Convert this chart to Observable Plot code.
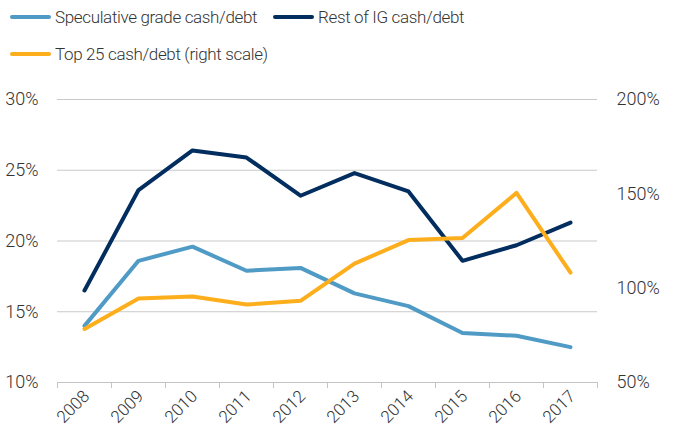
<!DOCTYPE html>
<html>
<head>
<meta charset="utf-8">
<script src="https://cdn.jsdelivr.net/npm/d3@7"></script>
<script src="https://cdn.jsdelivr.net/npm/@observablehq/plot@0.6"></script>
<style>
  body { margin: 0; background: #fff; font-family: Roboto, sans-serif; color: #333; }
  #legend { position: relative; width: 676px; height: 80px; font-size: 17px; font-weight: 300; letter-spacing: -0.35px; }
  .item { position: absolute; display: flex; align-items: center; white-space: nowrap; }
  .sw { display: inline-block; width: 41px; height: 4px; border-radius: 2px; margin-right: 4px; }
  #chart svg text { font-weight: 300; }
</style>
</head>
<body>
<div id="legend"></div>
<div id="chart"></div>
<script>
const years = [2008, 2009, 2010, 2011, 2012, 2013, 2014, 2015, 2016, 2017];
const speculative = [14.0, 18.6, 19.6, 17.9, 18.1, 16.3, 15.4, 13.5, 13.3, 12.5];
const restIG = [16.5, 23.6, 26.4, 25.9, 23.2, 24.8, 23.5, 18.6, 19.7, 21.3];
const top25 = [78.4, 94.5, 95.6, 91.3, 93.3, 113, 125.5, 126.6, 150.5, 108.2];
const leftTicks = [10, 15, 20, 25, 30];
const rightTicks = [50, 100, 150, 200];
const seriesNames = ["Speculative grade cash/debt", "Rest of IG cash/debt", "Top 25 cash/debt (right scale)"];
const seriesColors = ["#4f9bc6", "#022d5f", "#fdae1c"];

// right scale (50..200) mapped onto left scale (10..30)
const toLeft = v => 10 + (v - 50) * 20 / 150;
const toRight = v => 50 + (v - 10) * 150 / 20;

const rows = [];
years.forEach((y, i) => {
  rows.push({year: y, value: speculative[i], s: seriesNames[0]});
  rows.push({year: y, value: restIG[i], s: seriesNames[1]});
  rows.push({year: y, value: toLeft(top25[i]), s: seriesNames[2]});
});

// legend
const legend = document.getElementById("legend");
const legendPos = [[10, 7], [273, 7], [10, 44]];
seriesNames.forEach((n, i) => {
  const d = document.createElement("div");
  d.className = "item";
  d.style.left = legendPos[i][0] + "px";
  d.style.top = legendPos[i][1] + "px";
  d.innerHTML = `<span class="sw" style="background:${seriesColors[i]}"></span><span>${n}</span>`;
  legend.appendChild(d);
});

const boundaries = years.map(y => y - 0.5).concat([years[years.length - 1] + 0.5]);

const chart = Plot.plot({
  width: 676,
  height: 354,
  marginTop: 19,
  marginBottom: 52,
  marginLeft: 57,
  marginRight: 79,
  style: {fontFamily: "Roboto, sans-serif", fontSize: "18px", color: "#333", background: "#fff"},
  x: {type: "linear", domain: [2007.5, 2017.5]},
  y: {domain: [10, 30]},
  color: {domain: seriesNames, range: seriesColors},
  marks: [
    Plot.gridY([15, 20, 25, 30], {stroke: "#c9c9c9", strokeOpacity: 1, strokeWidth: 1}),
    Plot.ruleY([10], {stroke: "#c4c4c4", strokeWidth: 1}),
    Plot.axisX(boundaries, {tickSize: 6, tickFormat: () => "", stroke: "#c4c4c4", label: null}),
    Plot.axisX(years, {tickSize: 0, tickRotate: -45, tickPadding: 11, dx: 2, tickFormat: d => String(d), label: null, fontSize: 17}),
    Plot.axisY(leftTicks, {anchor: "left", tickSize: 0, tickPadding: 19, tickFormat: d => d + "%", label: null}),
    Plot.axisY(rightTicks.map(toLeft), {anchor: "right", tickSize: 0, tickPadding: 19, tickFormat: d => Math.round(toRight(d)) + "%", label: null}),
    Plot.line(rows, {x: "year", y: "value", z: "s", stroke: "s", strokeWidth: 4, strokeLinejoin: "round", strokeLinecap: "round"})
  ]
});
document.getElementById("chart").appendChild(chart);
</script>
</body>
</html>
